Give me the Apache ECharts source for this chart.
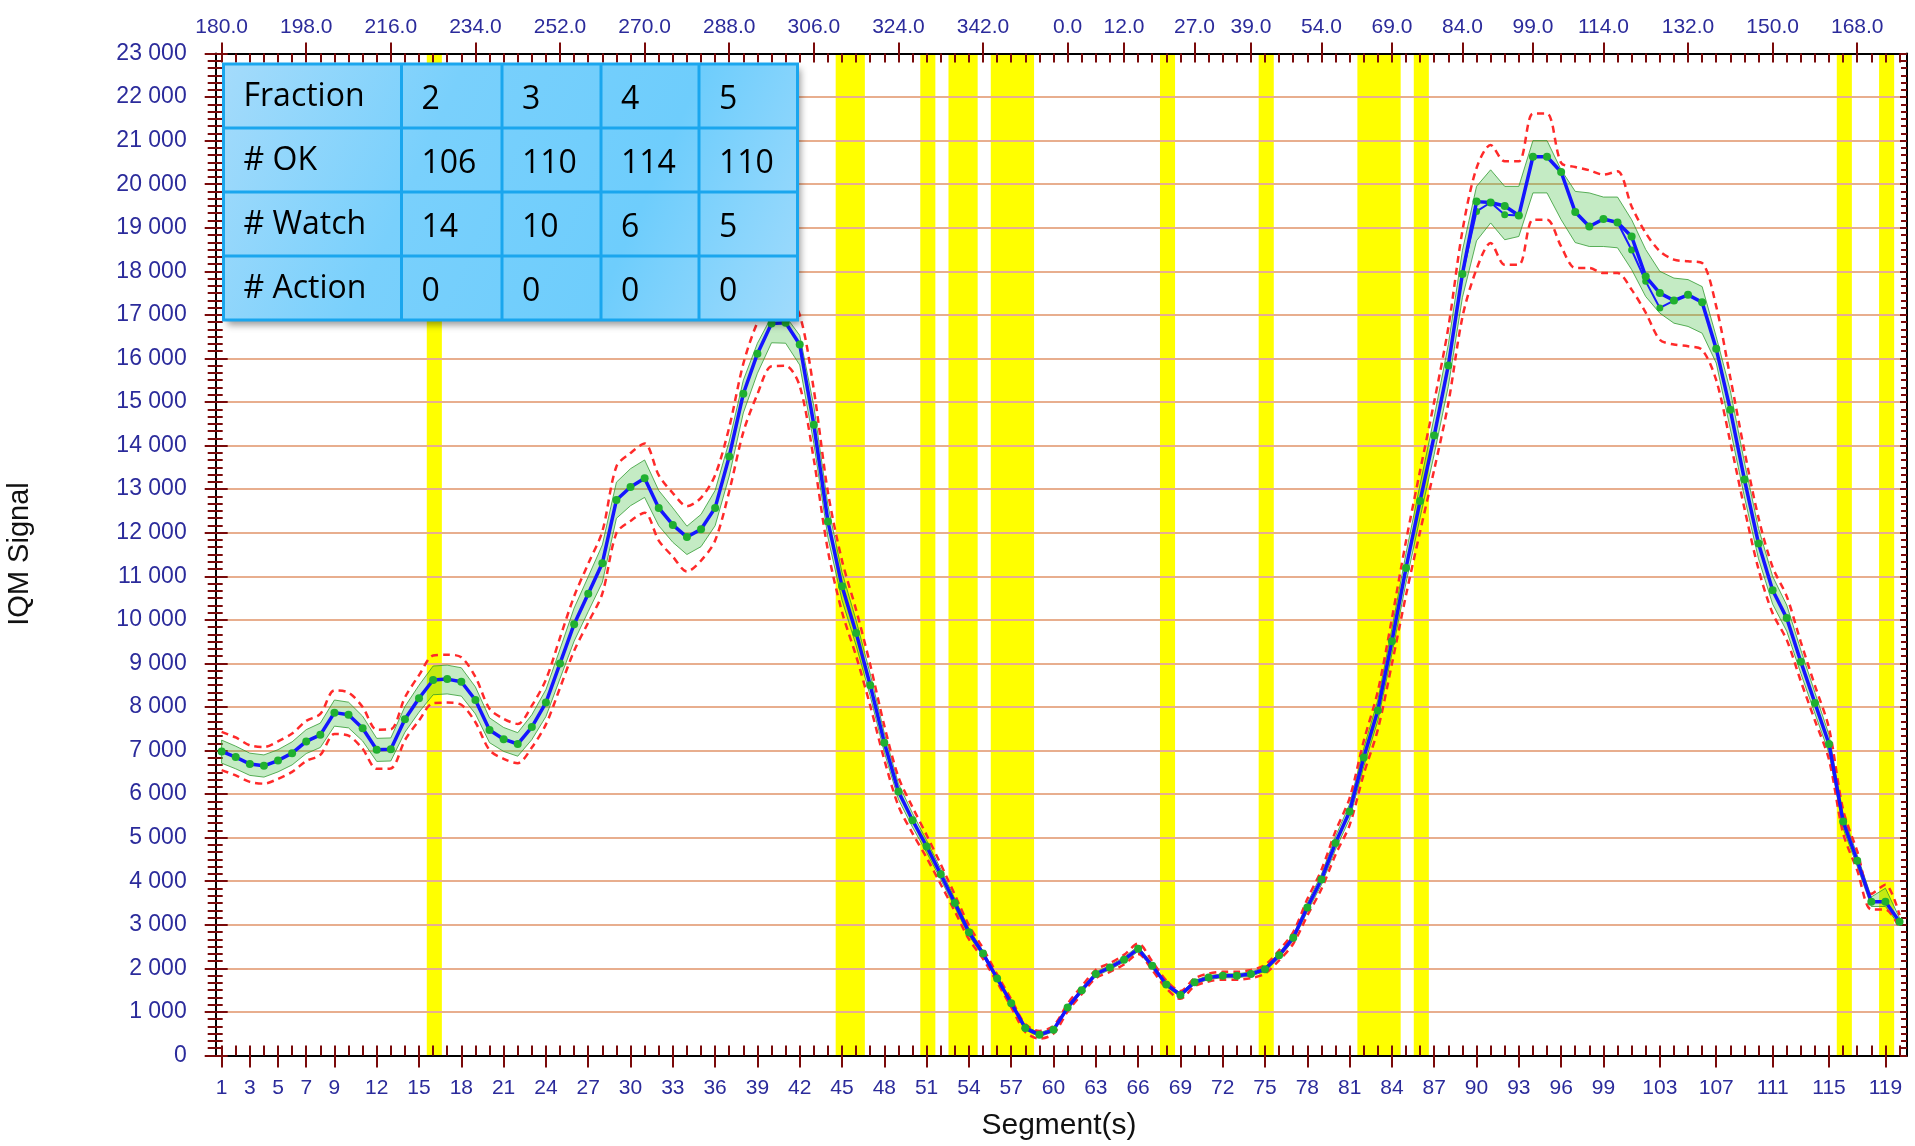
<!DOCTYPE html>
<html><head><meta charset="utf-8">
<script src="https://cdn.jsdelivr.net/npm/echarts@6/dist/echarts.min.js"></script>
<style>html,body{margin:0;padding:0;background:#fff}#c{width:1915px;height:1146px}</style>
</head><body><div id="c"></div>
<script>
// ---------- data ----------
const iqmSignal = [6980,6850,6690,6650,6770,6940,7210,7360,7870,7820,
 7510,7020,7030,7720,8200,8620,8640,8580,8160,7470,
 7260,7150,7540,8100,9000,9900,10600,11300,12750,13050,
 13250,12570,12180,11900,12080,12570,13750,15190,16110,16800,
 16820,16320,14480,12260,10770,9700,8500,7180,6060,5400,
 4800,4160,3500,2830,2340,1770,1200,630,475,590,
 1100,1500,1870,2020,2200,2450,2060,1630,1390,1680,
 1790,1830,1830,1870,1980,2300,2700,3400,4040,4880,
 5600,6840,7920,9510,11190,12730,14230,15840,17940,19600,
 19580,19500,19280,20630,20630,20280,19360,19030,19200,19120,
 18800,17880,17500,17330,17460,17290,16220,14820,13220,11750,
 10680,10040,9040,8090,7150,5370,4470,3530,3530,3070];

const greenUpper = [7240,7100,6940,6900,7020,7200,7480,7630,8160,8110,
 7790,7280,7290,8010,8500,8940,8960,8900,8460,7750,
 7530,7410,7820,8400,9330,10270,10990,11720,13160,13470,
 13670,12970,12570,12150,12420,12970,14100,15500,16350,16960,
 16970,16530,14910,12630,11090,9990,8760,7400,6240,5560,
 4940,4280,3600,2910,2400,1815,1245,675,520,635,
 1145,1545,1917,2070,2255,2510,2110,1675,1435,1725,
 1835,1875,1875,1917,2030,2358,2768,3500,4160,5030,
 5770,7050,8160,9800,11530,13110,14660,16320,18480,19950,
 20330,19950,19950,21000,21000,20330,19835,19800,19705,19705,
 19185,18500,18000,17845,17810,17650,16500,15260,13620,12100,
 11000,10340,9310,8330,7360,5530,4600,3640,3840,3160];

const greenLower = [6710,6580,6430,6390,6510,6670,6930,7070,7560,7520,
 7220,6750,6760,7420,7880,8280,8300,8250,7840,7180,
 6980,6870,7250,7780,8650,9510,10190,10860,12330,12620,
 12810,12160,11780,11500,11680,12160,13300,14750,15660,16360,
 16350,15850,14050,11890,10450,9410,8250,6960,5880,5240,
 4660,4040,3400,2750,2280,1725,1155,585,430,545,
 1055,1455,1823,1970,2145,2390,2010,1585,1345,1635,
 1745,1785,1785,1823,1930,2242,2632,3300,3920,4730,
 5430,6630,7680,9220,10850,12350,13800,15360,17400,18700,
 19110,18725,18800,19800,19800,19185,18660,18570,18570,18540,
 18040,17420,17040,16810,16735,16580,15895,14380,12820,11400,
 10360,9740,8770,7850,6940,5210,4340,3420,3420,2980];

const redUpper = [7430,7300,7120,7080,7210,7390,7680,7840,8380,8330,
 8000,7480,7490,8220,8730,9180,9200,9140,8690,7960,
 7730,7610,8030,8630,9590,10540,11290,12030,13520,13830,
 14050,13320,12910,12610,12800,13320,14420,15880,16830,17400,
 17420,17000,15280,12930,11360,10230,8970,7570,6390,5700,
 5060,4390,3690,2990,2460,1860,1290,720,565,680,
 1190,1590,1963,2120,2310,2570,2160,1720,1480,1770,
 1880,1920,1920,1963,2080,2415,2835,3590,4260,5150,
 5910,7220,8360,10030,11810,13430,15010,16710,18930,20370,
 20900,20525,20525,21620,21620,20490,20395,20320,20220,20295,
 19490,18880,18460,18270,18230,18190,17195,15560,13880,12340,
 11210,10540,9490,8490,7510,5640,4690,3710,3920,3220];

const redLower = [6550,6430,6280,6240,6350,6510,6760,6900,7380,7340,
 7040,6580,6590,7240,7690,8090,8100,8050,7650,7010,
 6810,6710,7070,7600,8440,9290,9940,10600,11990,12270,
 12460,11820,11450,11110,11360,11820,12950,14310,15180,15820,
 15830,15370,13680,11590,10180,9170,8030,6790,5730,5100,
 4540,3930,3310,2670,2220,1680,1110,540,385,500,
 1010,1410,1777,1920,2090,2330,1960,1540,1300,1590,
 1700,1740,1740,1777,1880,2185,2565,3210,3820,4610,
 5290,6460,7480,8990,10570,12030,13450,14970,16950,18050,
 18650,18150,18150,19185,19185,18570,18075,18075,17960,17960,
 17580,17050,16430,16320,16280,16200,15500,14080,12560,11160,
 10150,9540,8590,7690,6790,5100,4250,3350,3350,2920];

// second (overlapping) trace where it separates from the main one
const altSegments = [89,90,91,92,93,94,100,101,102,103,104];
const altValues   = [17940,19375,19580,19300,19280,20630,19120,18490,17770,17160,17330];

// highlighted (yellow) segments
const yellowSegments = [16,45,46,51,53,54,56,57,58,68,75,82,83,84,86,116,119];

// axis tick labels
const bottomTickSegments = [1,3,5,7,9,12,15,18,21,24,27,30,33,36,39,42,45,48,51,54,57,60,63,66,69,72,75,78,81,84,87,90,93,96,99,103,107,111,115,119];
const topTickSegments = [1,7,13,19,25,31,37,43,49,55,61,65,70,74,79,84,89,94,99,105,111,117];
const topTickLabels = ['180.0','198.0','216.0','234.0','252.0','270.0','288.0','306.0','324.0','342.0','0.0','12.0','27.0','39.0','54.0','69.0','84.0','99.0','114.0','132.0','150.0','168.0'];

// summary table
const tableHeader = ['Fraction','2','3','4','5'];
const okRow       = ['# OK','106','110','114','110'];
const watchRow    = ['# Watch','14','10','6','5'];
const actionRow   = ['# Action','0','0','0','0'];

// ---------- build ----------
const segments = iqmSignal.map((_, i) => i + 1);
const pts = arr => arr.map((v, i) => [segments[i], v]);
const altData = [];
altSegments.forEach((s, i) => {
  if (i > 0 && s - altSegments[i - 1] > 1) altData.push([null, null]);
  altData.push([s, altValues[i]]);
});

const XMIN = 0.58, XMAX = 120.53;
const labelColor = '#2b2b9b';
const tickColor = '#7a0a0a';
const FONT = 'Liberation Sans';

const chart = echarts.init(document.getElementById('c'), null, {renderer: 'canvas'});

// table graphic (drawn on its own layer above the plot)
const TZ = {zlevel: 5, z: 100};
const colX = [0, 178, 278.5, 377.5, 475.5, 574];
const rowH = 64;
const tableRows = [tableHeader, okRow, watchRow, actionRow];
const tableChildren = [Object.assign({
  type: 'rect', shape: {x: 0, y: 0, width: 574, height: 256},
  style: {
    fill: {type: 'linear', x: 0, y: 0, x2: 1, y2: 1, colorStops: [
      {offset: 0, color: '#a4dbfb'}, {offset: 0.35, color: '#79d0fc'},
      {offset: 0.7, color: '#6ecdfc'}, {offset: 1, color: '#a0dbfc'}]},
    shadowBlur: 7, shadowOffsetX: 3, shadowOffsetY: 5, shadowColor: 'rgba(0,0,0,0.4)'
  }
}, TZ)];
for (let r = 1; r < 4; r++) tableChildren.push(Object.assign({type: 'line', shape: {x1: 0, y1: r * rowH, x2: 574, y2: r * rowH}, style: {stroke: '#1aa6ee', lineWidth: 3}}, TZ, {z: 101}));
for (let c = 1; c < 5; c++) tableChildren.push(Object.assign({type: 'line', shape: {x1: colX[c], y1: 0, x2: colX[c], y2: 256}, style: {stroke: '#1aa6ee', lineWidth: 3}}, TZ, {z: 101}));
tableChildren.push(Object.assign({type: 'rect', shape: {x: 0, y: 0, width: 574, height: 256}, style: {fill: 'none', stroke: '#1aa6ee', lineWidth: 3}}, TZ, {z: 101}));
tableRows.forEach((row, r) => {
  row.forEach((txt, c) => {
    tableChildren.push(Object.assign({type: 'text', x: colX[c] + 20, y: r * rowH + 33 + (c > 0 ? 3 : 0),
      style: {text: txt, fill: '#000', font: '32px "Open Sans"', align: 'left', verticalAlign: 'middle'}}, TZ, {z: 102}));
  });
});

const option = {
  animation: false,
  backgroundColor: '#ffffff',
  textStyle: {fontFamily: FONT},
  grid: {left: 215.7, right: 8, top: 53.5, bottom: 90.5, outerBoundsMode: 'none', containLabel: false},
  xAxis: [
    { type: 'value', position: 'bottom', min: XMIN, max: XMAX,
      axisLine: {show: true, onZero: false, lineStyle: {color: '#000', width: 2}},
      axisTick: {show: true, inside: false, length: 12, customValues: bottomTickSegments, lineStyle: {color: tickColor, width: 2}},
      axisLabel: {show: true, customValues: bottomTickSegments, color: labelColor, fontSize: 21, fontFamily: FONT, margin: 22},
      splitLine: {show: false} },
    { type: 'value', position: 'bottom', min: XMIN, max: XMAX,
      axisLine: {show: false, onZero: false},
      axisTick: {show: true, inside: true, length: 10, customValues: segments, lineStyle: {color: tickColor, width: 2}},
      axisLabel: {show: false}, splitLine: {show: false} },
    { type: 'value', position: 'top', min: XMIN, max: XMAX,
      axisLine: {show: true, onZero: false, lineStyle: {color: '#000', width: 2}},
      axisTick: {show: true, inside: false, length: 11, customValues: topTickSegments, lineStyle: {color: tickColor, width: 2}},
      axisLabel: {show: true, customValues: topTickSegments, color: labelColor, fontSize: 21, fontFamily: FONT, margin: 16,
        formatter: v => { const i = topTickSegments.indexOf(Math.round(v)); return i >= 0 ? topTickLabels[i] : ''; }},
      splitLine: {show: false} },
    { type: 'value', position: 'top', min: XMIN, max: XMAX,
      axisLine: {show: false, onZero: false},
      axisTick: {show: true, inside: true, length: 9, customValues: segments, lineStyle: {color: tickColor, width: 2}},
      axisLabel: {show: false}, splitLine: {show: false} }
  ],
  yAxis: [
    { type: 'value', position: 'left', min: 0, max: 23000, interval: 1000,
      axisLine: {show: true, onZero: false, lineStyle: {color: '#000', width: 2}},
      axisTick: {show: true, inside: false, length: 11, lineStyle: {color: tickColor, width: 2}},
      minorTick: {show: true, splitNumber: 6, length: 8, lineStyle: {color: tickColor, width: 2}},
      axisLabel: {color: labelColor, fontSize: 23, fontFamily: FONT, margin: 29,
        formatter: v => v === 0 ? '0' : (v / 1000) + ' 000'},
      splitLine: {show: true, lineStyle: {color: '#e8ae8e', width: 2}} },
    { type: 'value', position: 'left', min: 0, max: 23000, interval: 1000,
      axisLine: {show: false, onZero: false},
      axisTick: {show: true, inside: true, length: 12, lineStyle: {color: tickColor, width: 2}},
      minorTick: {show: true, splitNumber: 6, length: 7, lineStyle: {color: tickColor, width: 2}},
      axisLabel: {show: false}, splitLine: {show: false} },
    { type: 'value', position: 'right', min: 0, max: 23000, interval: 1000,
      axisLine: {show: true, onZero: false, lineStyle: {color: '#000', width: 2}},
      axisTick: {show: true, inside: true, length: 7, lineStyle: {color: tickColor, width: 2}},
      minorTick: {show: true, splitNumber: 6, length: 6, lineStyle: {color: tickColor, width: 2}},
      axisLabel: {show: false}, splitLine: {show: false} }
  ],
  series: [
    { name: 'highlight', type: 'line', data: pts(iqmSignal), symbol: 'none', silent: true,
      lineStyle: {opacity: 0}, z: 0,
      markArea: {silent: true, z: -1, itemStyle: {color: '#ffff00', borderWidth: 0},
        data: yellowSegments.map(s => [{xAxis: s - 0.45}, {xAxis: s + 0.62}])} },
    { name: 'green band', type: 'custom', clip: true, z: 3, silent: true,
      data: segments.map((s, i) => [s, greenUpper[i], greenLower[i]]),
      renderItem: (params, api) => {
        if (params.dataIndex !== 0) return null;
        const up = greenUpper.map((v, i) => api.coord([segments[i], v]));
        const lo = greenLower.map((v, i) => api.coord([segments[i], v])).reverse();
        return {type: 'polygon', shape: {points: up.concat(lo)},
          style: {fill: 'rgba(60,190,60,0.30)', stroke: 'rgba(40,150,40,0.75)', lineWidth: 1}};
      } },
    { name: 'upper limit', type: 'line', data: pts(redUpper), symbol: 'none', smooth: 0.3, z: 4, silent: true,
      lineStyle: {color: '#ff2a2a', width: 2.5, type: [7, 5]} },
    { name: 'lower limit', type: 'line', data: pts(redLower), symbol: 'none', smooth: 0.3, z: 4, silent: true,
      lineStyle: {color: '#ff2a2a', width: 2.5, type: [7, 5]} },
    { name: 'alt trace', type: 'line', data: altData, connectNulls: false, z: 5, silent: true,
      symbol: 'circle', symbolSize: 7, itemStyle: {color: '#20b030'},
      lineStyle: {color: '#1a1aff', width: 2} },
    { name: 'IQM', type: 'line', data: pts(iqmSignal), z: 6, silent: true,
      symbol: 'circle', symbolSize: 8, itemStyle: {color: '#20b030', borderWidth: 0},
      lineStyle: {color: '#1515ff', width: 3.5} }
  ],
  graphic: [
    {type: 'text', x: 20, y: 554, rotation: Math.PI / 2, z: 50,
      style: {text: 'IQM Signal', fill: '#111', font: '29px "Liberation Sans"', align: 'center', verticalAlign: 'middle'}},
    {type: 'text', x: 1059, y: 1126, z: 50,
      style: {text: 'Segment(s)', fill: '#111', font: '30px "Liberation Sans"', align: 'center', verticalAlign: 'middle'}},
    Object.assign({type: 'group', x: 223.5, y: 64, children: tableChildren}, TZ)
  ]
};
chart.setOption(option);
</script>
</body></html>
